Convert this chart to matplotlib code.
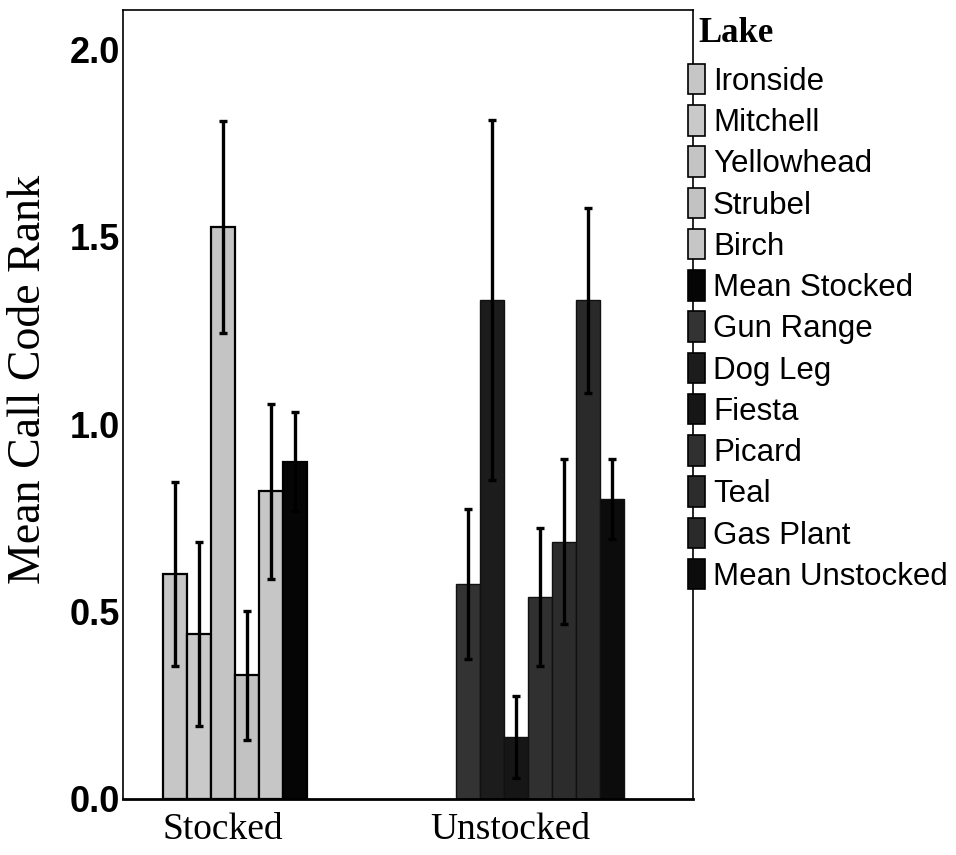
import matplotlib
matplotlib.use("Agg")
import matplotlib.pyplot as plt
from matplotlib.patches import Patch

# mean call code rank per lake, with error bar half-widths
groups = ["Stocked", "Unstocked"]
stocked_lakes = ["Ironside", "Mitchell", "Yellowhead", "Strubel", "Birch", "Mean Stocked"]
stocked_means = [0.60, 0.44, 1.525, 0.33, 0.82, 0.90]
stocked_err = [0.245, 0.245, 0.283, 0.172, 0.233, 0.133]
unstocked_lakes = ["Gun Range", "Dog Leg", "Fiesta", "Picard", "Teal", "Gas Plant", "Mean Unstocked"]
unstocked_means = [0.572, 1.33, 0.165, 0.538, 0.686, 1.33, 0.80]
unstocked_err = [0.20, 0.48, 0.11, 0.184, 0.22, 0.246, 0.108]
yticks = [0.0, 0.5, 1.0, 1.5, 2.0]

stocked_colors = ["#c6c6c6", "#c9c9c9", "#c4c4c4", "#c2c2c2", "#c6c6c6", "#050505"]
unstocked_colors = ["#333333", "#1c1c1c", "#161616", "#303030", "#2c2c2c", "#2a2a2a", "#0c0c0c"]

fig = plt.figure(figsize=(9.56, 8.55), dpi=100)
ax = fig.add_axes([0.1287, 0.0655, 0.5962, 0.9228])

# x in units of one bar width
w = 1.0
tick_pos = [4.17, 16.15]
first_bar = [2.15, 14.36]

sx = [first_bar[0] + i * w for i in range(len(stocked_means))]
ux = [first_bar[1] + i * w for i in range(len(unstocked_means))]

ax.bar(sx, stocked_means, width=w, color=stocked_colors, edgecolor="black", linewidth=1.6, zorder=2)
ax.bar(ux, unstocked_means, width=w, color=unstocked_colors, edgecolor="#111111", linewidth=1.0, zorder=2)
ax.errorbar(sx, stocked_means, yerr=stocked_err, fmt="none", ecolor="black",
            elinewidth=2.4, capsize=3, capthick=2.4, zorder=3)
ax.errorbar(ux, unstocked_means, yerr=unstocked_err, fmt="none", ecolor="black",
            elinewidth=2.4, capsize=3, capthick=2.4, zorder=3)

ax.set_xlim(0, 23.75)
ax.set_ylim(0, 2.104)
ax.set_xticks(tick_pos)
ax.set_xticklabels(groups, fontfamily="Liberation Serif", fontsize=27)
ax.set_yticks(yticks)
ax.set_yticklabels(["%.1f" % v for v in yticks], fontfamily="Liberation Sans",
                   fontsize=26, fontweight="bold")
ax.tick_params(axis="both", length=0)
ax.tick_params(axis="y", pad=2)
ax.tick_params(axis="x", pad=10)
for s in ax.spines.values():
    s.set_linewidth(1.2)
ax.spines["bottom"].set_linewidth(2)

ax.set_ylabel("Mean Call Code Rank", fontfamily="Liberation Serif", fontsize=33)
ax.yaxis.set_label_coords(-0.128, 0.532)

# legend title drawn on its own so the gap below it can be set
fig.text(698 / 956, 1 - 33 / 855, "Lake", fontfamily="Liberation Serif", fontsize=25,
         fontweight="bold", ha="left", va="center")

handles = [Patch(facecolor=c, edgecolor="black", linewidth=1.2)
           for c in stocked_colors + unstocked_colors]
labels = stocked_lakes + unstocked_lakes
leg = fig.legend(handles, labels, loc="upper left", bbox_to_anchor=(688 / 956, 1 - 64 / 855),
                 frameon=False,
                 prop={"family": "Liberation Sans", "size": 22.5},
                 handlelength=0.55, handleheight=1.12, handletextpad=0.25,
                 labelspacing=0.27, borderpad=0, borderaxespad=0)

fig.savefig("out.png", dpi=100)
